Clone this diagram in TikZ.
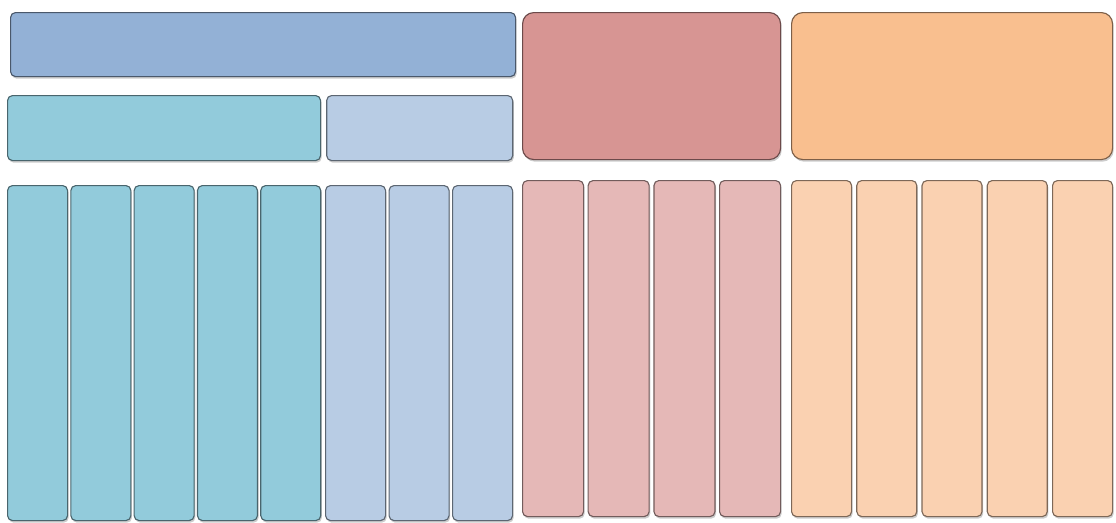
\documentclass[tikz,border=0pt]{standalone}
\usetikzlibrary{positioning, shadows}

\definecolor{topblue}{HTML}{93B1D6}
\definecolor{midcyan}{HTML}{92CBDB}
\definecolor{paleblue}{HTML}{B8CCE4}
\definecolor{rose}{HTML}{D79593}
\definecolor{apricot}{HTML}{F9BF8F}
\definecolor{palerose}{HTML}{E5B8B7}
\definecolor{paleapricot}{HTML}{FAD1B1}

\begin{document}
\begin{tikzpicture}[
    block/.style={draw=#1!50!black, fill=#1, line width=0.8pt,
                  rounded corners=3.5pt, anchor=north west, inner sep=0pt,
                  drop shadow={opacity=0.4, shadow xshift=0.8pt, shadow yshift=-1.5pt}},
    column/.style={block=#1, minimum width=1.5cm}]
  \useasboundingbox (0,0) rectangle (27.9,-13.075);

  % upper row
  \node[block=topblue, minimum width=12.625cm, minimum height=1.6cm] (head) at (0.25,-0.3) {};
  \node[block=midcyan, minimum width=7.825cm, minimum height=1.625cm] (cyanbar) at (0.175,-2.375) {};
  \node[block=paleblue, minimum width=4.65cm, minimum height=1.625cm, right=0.125cm of cyanbar] (bluebar) {};
  \node[block=rose, rounded corners=8pt, minimum width=6.45cm, minimum height=3.675cm] (rosebox) at (13.05,-0.3) {};
  \node[block=apricot, rounded corners=8pt, minimum width=8.025cm, minimum height=3.675cm] (apricotbox) at (19.775,-0.3) {};

  % columns
  \foreach \i/\x in {1/0.175, 2/1.7575, 3/3.34, 4/4.9225, 5/6.505}
    \node[column=midcyan, minimum height=8.375cm] (cyan\i) at (\x,-4.625) {};
  \foreach \i/\x in {1/8.125, 2/9.7125, 3/11.3}
    \node[column=paleblue, minimum height=8.375cm] (blue\i) at (\x,-4.625) {};
  \foreach \i/\x in {1/13.05, 2/14.69, 3/16.335, 4/17.975}
    \node[column=palerose, minimum width=1.525cm, minimum height=8.4cm] (rose\i) at (\x,-4.5) {};
  \foreach \i/\x in {1/19.775, 2/21.406, 3/23.037, 4/24.668, 5/26.3}
    \node[column=paleapricot, minimum height=8.4cm] (apricot\i) at (\x,-4.5) {};
\end{tikzpicture}
\end{document}
